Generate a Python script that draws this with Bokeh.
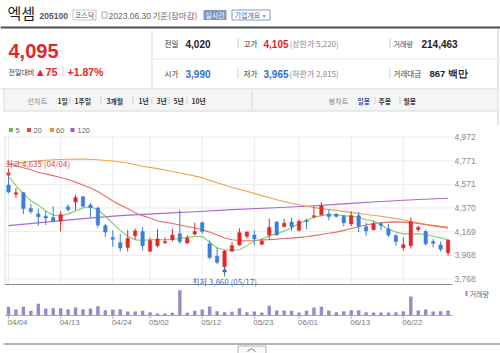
from bokeh.plotting import figure
from bokeh.models import Range1d
from bokeh.core.properties import value
from bokeh.embed import file_html
from bokeh.resources import INLINE

# ---------------- data ----------------
dates = ["04/04", "04/05", "04/06", "04/07", "04/10", "04/11", "04/12", "04/13", "04/14", "04/17",
         "04/18", "04/19", "04/20", "04/21", "04/24", "04/25", "04/26", "04/27", "04/28",
         "05/02", "05/03", "05/04", "05/08", "05/09", "05/10", "05/11", "05/12", "05/15", "05/16",
         "05/17", "05/18", "05/19", "05/22", "05/23", "05/24", "05/25", "05/26", "05/30", "05/31",
         "06/01", "06/02", "06/05", "06/07", "06/08", "06/09", "06/12", "06/13", "06/14", "06/15",
         "06/16", "06/19", "06/20", "06/21", "06/22", "06/23", "06/26", "06/27", "06/28", "06/29", "06/30"]
opens = [4565, 4487, 4500, 4365, 4320, 4300, 4290, 4260, 4380, 4420,
         4465, 4395, 4370, 4220, 4120, 4075, 4035, 4135, 4170, 4003,
         4050, 4075, 4100, 4150, 4073, 4148, 4245, 4065, 3960, 3870,
         4003, 4055, 4130, 4140, 4062, 4140, 4250, 4212, 4250, 4180,
         4265, 4295, 4312, 4320, 4318, 4300, 4235, 4305, 4210, 4185,
         4237, 4192, 4135, 4033, 4050, 4188, 4170, 4085, 4055, 3990]
highs = [4635, 4540, 4505, 4405, 4365, 4345, 4385, 4340, 4400, 4485,
         4470, 4415, 4380, 4235, 4180, 4150, 4185, 4195, 4205, 4120,
         4190, 4120, 4192, 4355, 4140, 4245, 4255, 4095, 4035, 4010,
         4080, 4197, 4170, 4180, 4110, 4280, 4258, 4278, 4290, 4270,
         4278, 4385, 4420, 4355, 4325, 4312, 4340, 4335, 4245, 4255,
         4250, 4235, 4150, 4120, 4290, 4220, 4187, 4105, 4085, 4105]
lows = [4495, 4455, 4320, 4320, 4220, 4225, 4250, 4170, 4340, 4350,
        4375, 4290, 4205, 4125, 4040, 4000, 4000, 4100, 4010, 4000,
        4035, 4065, 4085, 4065, 4065, 4135, 4150, 3935, 3893, 3860,
        4000, 4050, 4110, 4055, 4055, 4100, 4135, 4205, 4178, 4170,
        4190, 4283, 4305, 4265, 4290, 4215, 4215, 4165, 4130, 4180,
        4180, 4120, 4050, 4008, 4025, 4170, 4050, 4035, 4000, 3965]
closes = [4505, 4500, 4365, 4340, 4295, 4285, 4260, 4315, 4357, 4460,
          4385, 4375, 4225, 4165, 4105, 4030, 4112, 4175, 4050, 4093,
          4107, 4085, 4140, 4085, 4113, 4170, 4170, 3950, 3908, 4005,
          4050, 4160, 4165, 4107, 4090, 4205, 4140, 4240, 4210, 4257,
          4255, 4305, 4390, 4297, 4298, 4245, 4305, 4215, 4175, 4235,
          4222, 4140, 4085, 4058, 4255, 4205, 4065, 4070, 4020, 4095]
volumes = [374000, 258000, 374000, 202000, 503000, 301000, 314000, 314000, 271000, 344000,
           271000, 301000, 400000, 228000, 258000, 271000, 172000, 172000, 202000, 142000,
           86000, 86000, 116000, 1088000, 116000, 202000, 258000, 385000, 185000, 142000,
           159000, 310000, 142000, 172000, 129000, 417000, 215000, 215000, 202000, 129000,
           202000, 344000, 374000, 215000, 142000, 185000, 228000, 228000, 142000, 129000,
           129000, 129000, 142000, 185000, 817000, 215000, 258000, 172000, 185000, 214463]
ma5 = [4640, 4560, 4490, 4430, 4395, 4345, 4310, 4300, 4320, 4345,
       4370, 4380, 4355, 4300, 4240, 4180, 4130, 4100, 4095, 4100,
       4100, 4100, 4105, 4110, 4120, 4125, 4130, 4080, 4030, 4015,
       4008, 4015, 4050, 4090, 4105, 4135, 4150, 4175, 4200, 4240,
       4265, 4290, 4305, 4313, 4312, 4305, 4300, 4290, 4270, 4260,
       4225, 4190, 4165, 4150, 4150, 4150, 4145, 4130, 4115, 4100]
ma20 = [4745, 4730, 4712, 4695, 4672, 4660, 4645, 4630, 4612, 4590,
        4565, 4540, 4510, 4470, 4430, 4395, 4365, 4330, 4305, 4285,
        4260, 4250, 4238, 4225, 4212, 4200, 4185, 4165, 4140, 4115,
        4100, 4093, 4092, 4094, 4098, 4101, 4105, 4110, 4114, 4120,
        4125, 4135, 4145, 4155, 4165, 4180, 4195, 4210, 4225, 4238,
        4245, 4250, 4252, 4250, 4246, 4238, 4228, 4218, 4208, 4198]
ma60_idx = [0, 2, 4, 6, 8, 10, 12, 14, 16, 18, 20, 22, 24, 26, 28, 30,
            32, 34, 36, 38, 40, 42, 44, 46, 48, 50, 52, 54, 56, 58, 59]
ma60 = [4740, 4758, 4772, 4780, 4785, 4786, 4780, 4770, 4752, 4725, 4705, 4680, 4655, 4628, 4585, 4545,
        4512, 4475, 4440, 4410, 4385, 4365, 4350, 4333, 4315, 4300, 4280, 4255, 4232, 4214, 4207]
ma120_idx = [0, 10, 15, 20, 25, 30, 35, 40, 45, 50, 55, 59]
ma120 = [4220, 4280, 4305, 4322, 4338, 4356, 4370, 4385, 4405, 4425, 4442, 4453]
price_ticks = [4972, 4771, 4571, 4370, 4169, 3968, 3768]
date_tick_idx = [0, 7, 14, 19, 26, 33, 39, 46, 53]

# ---------------- layout constants (pixel mapping) ----------------
W, H = 500, 353
X_PX0, X_STEP = 8.0, 7.45            # pixel of first candle, pixels per candle
P_REF, P_REF_PX, P_PER_PX = 4972, 136.7, 8.503
V_BASE_PX, V_PER_PX = 315.0, 43000


def ix(px):
    return (px - X_PX0) / X_STEP


def py(px):
    return P_REF - (px - P_REF_PX) * P_PER_PX


def vy(px):
    return (V_BASE_PX - px) * V_PER_PX


p = figure(width=W, height=H, output_backend="svg", toolbar_location=None,
           x_range=Range1d(ix(0), ix(W)), y_range=Range1d(py(H), py(0)),
           x_axis_location=None, y_axis_location=None, min_border=0,
           outline_line_color=None, background_fill_color="white",
           border_fill_color="white")
p.xgrid.visible = False
p.ygrid.visible = False
p.extra_x_ranges = {"px": Range1d(0, W)}
p.extra_y_ranges = {"px": Range1d(H, 0), "vol": Range1d(vy(H), vy(0))}

KR = "Noto Sans CJK KR"
LS = "Liberation Sans"
RED = "#e3262b"
BLUE = "#2f6fd6"


def T(x, y, s, size, color, font=KR, bold=False, align="left", baseline="middle"):
    p.text(x=[x], y=[y], text=[s], x_range_name="px", y_range_name="px",
           text_font=value(font), text_font_size=value(f"{size}px"),
           text_font_style="bold" if bold else "normal", text_color=color,
           text_align=align, text_baseline=baseline)


def L(x0, y0, x1, y1, color, w=1.0):
    p.segment(x0=[x0], y0=[y0], x1=[x1], y1=[y1], x_range_name="px", y_range_name="px",
              line_color=color, line_width=w)


def R(x0, y0, x1, y1, fill, line=None):
    p.quad(left=[x0], right=[x1], top=[y0], bottom=[y1], x_range_name="px", y_range_name="px",
           fill_color=fill, line_color=line, line_width=1)


# ---------------- header ----------------
T(7, 12, "엑셈", 15, "#1a1a1a")
T(39, 15, "205100", 8.5, "#555555", font=LS, bold=True)
R(72.5, 9.5, 95.5, 19.5, "white", "#c4c4c4")
T(84, 14.5, "코스닥", 7, "#555555", align="center")
R(101.5, 11.5, 106.5, 17.5, "white", "#aaaaaa")
T(108, 15, "2023.06.30", 8.5, "#666666", font=LS)
T(152, 14.5, "기준(장마감)", 8.5, "#666666")
R(203, 9.5, 226, 19.5, "#8495c9", None)
T(214.5, 14.5, "실시간", 7, "white", align="center")
R(231.5, 9.5, 269.5, 19.5, "white", "#8495c9")
T(234, 14.5, "기업개요", 7, "#4b5e9a")
T(262, 14.5, "▾", 6, "#8495c9", font="DejaVu Sans")
L(0, 27, 500, 27, "#4d4d4d", 2)

L(151.5, 28, 151.5, 88, "#dddddd")
L(497.5, 28, 497.5, 125, "#d0d0d0")
L(152, 58.5, 497, 58.5, "#e6e6e6")
L(0, 88.5, 497, 88.5, "#cfcfcf")

T(8, 50, "4,095", 20, RED, font=LS, bold=True)
T(8, 71, "전일대비", 7, "#333333")
T(36.5, 71, "▲", 8.5, RED, font="DejaVu Sans")
T(45, 71, "75", 11, RED, font=LS, bold=True)
L(62.5, 66, 62.5, 76, "#cccccc")
T(67, 71, "+1.87%", 10.5, RED, font=LS, bold=True)

T(164, 43, "전일", 7.5, "#333333")
T(185, 43, "4,020", 10, "#222222", font=LS, bold=True)
L(237.5, 38, 237.5, 48, "#cccccc")
T(243, 43, "고가", 7.5, "#333333")
T(263, 43, "4,105", 10, RED, font=LS, bold=True)
T(289, 43, "(상한가 5,220)", 8, "#888888")
L(389.5, 38, 389.5, 48, "#cccccc")
T(393, 43, "거래량", 7, "#444444")
T(421, 43, "214,463", 10, "#222222", font=LS, bold=True)

T(164, 73, "시가", 7.5, "#333333")
T(185, 73, "3,990", 10, BLUE, font=LS, bold=True)
L(237.5, 68, 237.5, 78, "#cccccc")
T(243, 73, "저가", 7.5, "#333333")
T(263, 73, "3,965", 10, BLUE, font=LS, bold=True)
T(289, 73, "(하한가 2,815)", 8, "#888888")
L(389.5, 68, 389.5, 78, "#cccccc")
T(393, 73, "거래대금", 7.5, "#444444")
T(429, 73, "867 백만", 9.5, "#222222", font=LS, bold=True)

# tab bar
R(3.5, 89, 497, 110.5, "#f5f5f5", None)
L(3.5, 89, 3.5, 111, "#d8d8d8")
L(3.5, 110.5, 497, 110.5, "#d8d8d8")
L(251.5, 89, 251.5, 110.5, "#d8d8d8")
T(27, 100, "선차트", 7.2, "#888888")
tabs = [("1일", 57), ("1주일", 74), ("3개월", 106), ("1년", 138), ("3년", 156), ("5년", 173), ("10년", 191)]
for s, x in tabs:
    T(x, 100, s, 6.8, "#333333", bold=True)
for x in [69.5, 100.5, 132.5, 151.5, 168.5, 186.5]:
    L(x, 96.5, x, 103.5, "#cccccc")
T(328, 100, "봉차트", 7.2, "#888888")
T(357, 100, "일봉", 6.8, "#2f4fb0", bold=True)
T(378, 100, "주봉", 6.8, "#333333", bold=True)
T(403, 100, "월봉", 6.8, "#333333", bold=True)
for x in [374.5, 399.5]:
    L(x, 96.5, x, 103.5, "#cccccc")

# MA legend
leg = [("5", "#6cbf4a", 8.5, 15), ("20", "#e04b4b", 26.5, 33), ("60", "#f0912a", 49.5, 55.5), ("120", "#a259c9", 70, 77)]
for s, c, xs, xt in leg:
    R(xs, 127.5, xs + 4, 131.5, c, None)
    T(xt, 129.5, s, 7.5, "#666666", font=LS)

# ---------------- chart frame / grids ----------------
L(4.5, 135, 4.5, 284, "#dddddd")
p.segment(x0=[ix(4.5)] * len(price_ticks), y0=price_ticks, x1=[ix(452)] * len(price_ticks), y1=price_ticks,
          line_color="#ebebeb", line_width=1)
p.segment(x0=date_tick_idx, y0=[py(135)] * len(date_tick_idx), x1=date_tick_idx, y1=[py(284)] * len(date_tick_idx),
          line_color="#ebebeb", line_width=1)
p.text(x=[ix(454)] * len(price_ticks), y=price_ticks, text=[f"{t:,}" for t in price_ticks],
       text_font=value(LS), text_font_size=value("8.5px"), text_color="#8a8a8a",
       text_align="left", text_baseline="middle")
L(4.5, 284, 452, 284, "#8c8c8c")

# ---------------- moving averages ----------------
idx = list(range(len(dates)))
p.line(ma120_idx, ma120, line_color="#a66bd0", line_width=1.1)
p.line(ma60_idx, ma60, line_color="#f2a04c", line_width=1.1)
p.line(idx, ma20, line_color="#ec6a6a", line_width=1.1)
p.line(idx, ma5, line_color="#82c96a", line_width=1.1)

# ---------------- candles ----------------
cols = [RED if c >= o else "#3b7ddd" for o, c in zip(opens, closes)]
p.segment(x0=idx, y0=lows, x1=idx, y1=highs, line_color=cols, line_width=1)
p.vbar(x=idx, width=0.46, top=[max(o, c) for o, c in zip(opens, closes)],
       bottom=[min(o, c) for o, c in zip(opens, closes)], fill_color=cols, line_color=cols, line_width=0.5)

# high / low annotations
imax = max(idx, key=lambda i: highs[i])
imin = min(idx, key=lambda i: lows[i])
hi, lo = highs[imax], lows[imin]
p.text(x=[imax], y=[hi], text=[f"최고 {hi:,} ({dates[imax]})"], x_offset=-3, y_offset=-13,
       text_font=value(KR), text_font_size=value("8px"), text_color="#d9443f",
       text_align="left", text_baseline="middle")
p.segment(x0=[imax], y0=[hi + 12], x1=[imax], y1=[hi + 70], line_color="#d9443f", line_width=1)
p.scatter(x=[imax], y=[hi + 22], marker="inverted_triangle", size=4, fill_color="#d9443f", line_color="#d9443f")
p.text(x=[imin], y=[lo], text=[f"최저 {lo:,} ({dates[imin]})"], y_offset=13.5,
       text_font=value(KR), text_font_size=value("8px"), text_color="#3a6fc4",
       text_align="center", text_baseline="middle")
p.segment(x0=[imin], y0=[lo - 14], x1=[imin], y1=[lo - 70], line_color="#3a6fc4", line_width=1)
p.scatter(x=[imin], y=[lo - 22], marker="triangle", size=4, fill_color="#3a6fc4", line_color="#3a6fc4")

# ---------------- volume ----------------
p.vbar(x=idx, width=0.46, top=volumes, bottom=0, y_range_name="vol",
       fill_color="#9c88c9", line_color=None)
L(4.5, 315, 452, 315, "#a8a8a8")
p.segment(x0=date_tick_idx, y0=[0] * len(date_tick_idx), x1=date_tick_idx, y1=[vy(318)] * len(date_tick_idx),
          y_range_name="vol", line_color="#a8a8a8", line_width=1)
p.text(x=date_tick_idx, y=[vy(322)] * len(date_tick_idx), text=[dates[i] for i in date_tick_idx],
       x_offset=-1, y_range_name="vol", text_font=value(LS), text_font_size=value("8px"),
       text_color="#7a7a7a", text_align="left", text_baseline="middle")
R(465, 290.5, 467, 295.5, "#9c88c9", None)
T(469, 293, "거래량", 7, "#666666")

# ---------------- footer ----------------
L(3, 343.5, 500, 343.5, "#6a6a6a")
R(237.5, 345.5, 265.5, 353, "#fafafa", "#b0b0b0")
p.line(x=[247, 251, 255], y=[351, 348, 351], x_range_name="px", y_range_name="px",
       line_color="#777777", line_width=1)

open("out.html", "w").write(file_html(p, INLINE))
